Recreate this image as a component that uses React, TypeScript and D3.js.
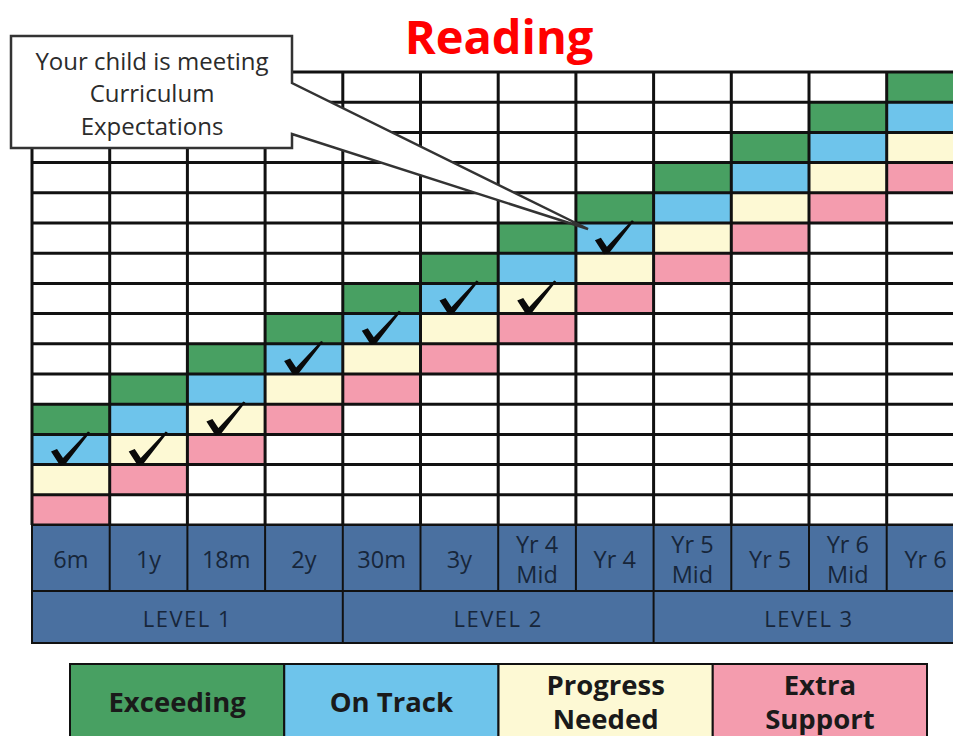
import React from "react";
import * as d3 from "d3";

// ---- data ----
const columnLabels: string[] = ["6m", "1y", "18m", "2y", "30m", "3y", "Yr 4\nMid", "Yr 4", "Yr 5\nMid", "Yr 5", "Yr 6\nMid", "Yr 6"];
// lowest grid row (from bottom) of the four-band stack in each column
const baseRow: number[] = [0, 1, 2, 3, 4, 5, 6, 7, 8, 9, 10, 11];
// band (category) holding the tick mark in each column
const checkBand: (string | null)[] = ["On Track", "Progress Needed", "Progress Needed", "On Track", "On Track", "On Track", "Progress Needed", "On Track", null, null, null, null];
// categories ordered from bottom band to top band
const bandOrder: string[] = ["Extra Support", "Progress Needed", "On Track", "Exceeding"];
const legendCategories: string[] = ["Exceeding", "On Track", "Progress Needed", "Extra Support"];
const legendLines: string[][] = [["Exceeding"], ["On Track"], ["Progress", "Needed"], ["Extra", "Support"]];
const levelLabels: string[] = ["LEVEL 1", "LEVEL 2", "LEVEL 3"];
const levelSpans: number[] = [4, 4, 4];
const rowCount = 15;
const title = "Reading";
const calloutLines: string[] = ["Your child is meeting", "Curriculum", "Expectations"];

const colors: Record<string, string> = {
  "Exceeding": "#48a062",
  "On Track": "#6ec4eb",
  "Progress Needed": "#fdf9d4",
  "Extra Support": "#f49cae",
};

const FONT = "'Open Sans', 'Noto Sans', sans-serif";

export default function App() {
  const gridLeft = 32;
  const colW = 77.7;
  const gridTop = 72;
  const gridBottom = 525;
  const headerBottom = 591;
  const levelBottom = 643;

  const x = d3.scaleBand<number>()
    .domain(d3.range(columnLabels.length))
    .range([gridLeft, gridLeft + colW * columnLabels.length])
    .padding(0);
  const y = d3.scaleLinear().domain([0, rowCount]).range([gridBottom, gridTop]);
  const rowH = y(0) - y(1);

  const legendX = d3.scaleBand<number>()
    .domain(d3.range(legendCategories.length))
    .range([70, 927]);
  const legendTop = 664;
  const legendBottom = 748;

  const gridRight = x.range()[1];

  // check mark polygon relative to (cell left, cell bottom)
  const checkPath = (cx: number, cb: number) => {
    const p = d3.path();
    p.moveTo(cx + 19, cb - 13);
    p.lineTo(cx + 25, cb - 15.5);
    p.lineTo(cx + 31, cb - 6.5);
    p.lineTo(cx + 56, cb - 33);
    p.lineTo(cx + 58, cb - 32);
    p.lineTo(cx + 33.5, cb - 0.5);
    p.lineTo(cx + 28, cb + 1);
    p.closePath();
    return p.toString();
  };

  let levelStart = 0;
  const levelCells = levelLabels.map((lab, i) => {
    const s = levelStart;
    levelStart += levelSpans[i];
    const x0 = x(s)!;
    const x1 = x(s + levelSpans[i] - 1)! + x.bandwidth();
    return { lab, x0, x1 };
  });

  return (
    <svg width={953} height={736} style={{ position: "fixed", left: 0, top: 0, background: "#fff" }}>
      {/* title */}
      <text x={499} y={54} textAnchor="middle" fontFamily={FONT} fontWeight={700} fontSize={47} fill="#ff0000">{title}</text>

      {/* coloured bands */}
      {columnLabels.map((_, ci) =>
        bandOrder.map((cat, bi) => (
          <rect key={`b${ci}-${bi}`} x={x(ci)} y={y(baseRow[ci] + bi + 1)} width={x.bandwidth()} height={rowH} fill={colors[cat]} />
        ))
      )}

      {/* grid lines */}
      {d3.range(rowCount + 1).map((r) => (
        <line key={`h${r}`} x1={gridLeft} x2={gridRight} y1={y(r)} y2={y(r)} stroke="#111" strokeWidth={3} />
      ))}
      {d3.range(columnLabels.length + 1).map((c) => {
        const xx = c < columnLabels.length ? x(c)! : gridRight;
        return <line key={`v${c}`} x1={xx} x2={xx} y1={gridTop} y2={gridBottom} stroke="#111" strokeWidth={3} />;
      })}

      {/* check marks */}
      {checkBand.map((cat, ci) => {
        if (!cat) return null;
        const bi = bandOrder.indexOf(cat);
        const cb = y(baseRow[ci] + bi);
        return <path key={`c${ci}`} d={checkPath(x(ci)!, cb)} fill="#0a0a0a" />;
      })}

      {/* header row */}
      <rect x={gridLeft} y={gridBottom} width={gridRight - gridLeft} height={levelBottom - gridBottom} fill="#4a70a0" />
      {columnLabels.map((lab, ci) => {
        const cx = x(ci)! + x.bandwidth() / 2;
        const lines = lab.split("\n");
        const mid = (gridBottom + headerBottom) / 2 + 1;
        return (
          <g key={`hl${ci}`}>
            {ci > 0 && <line x1={x(ci)} x2={x(ci)} y1={gridBottom} y2={headerBottom} stroke="#111" strokeWidth={2} />}
            {lines.map((ln, li) => (
              <text key={li} x={cx} y={mid + (li - (lines.length - 1) / 2) * 30} textAnchor="middle" dominantBaseline="central"
                fontFamily={FONT} fontSize={23.5} fill="#17263a">{ln}</text>
            ))}
          </g>
        );
      })}
      <line x1={gridLeft} x2={gridRight} y1={headerBottom} y2={headerBottom} stroke="#111" strokeWidth={2} />
      {levelCells.map((lc, i) => (
        <g key={`lv${i}`}>
          {i > 0 && <line x1={lc.x0} x2={lc.x0} y1={headerBottom} y2={levelBottom} stroke="#111" strokeWidth={2} />}
          <text x={(lc.x0 + lc.x1) / 2} y={618} textAnchor="middle" dominantBaseline="central" fontFamily={FONT} fontSize={22}
            letterSpacing={1.5} fill="#17263a">{lc.lab}</text>
        </g>
      ))}
      <rect x={gridLeft} y={gridBottom} width={gridRight - gridLeft} height={levelBottom - gridBottom} fill="none" stroke="#111" strokeWidth={2} />

      {/* callout */}
      <path d={`M11,36 L292,36 L292,83 L588,229 L292,134 L292,148 L11,148 Z`} fill="#fff" stroke="#333" strokeWidth={2.5} strokeLinejoin="miter" />
      {calloutLines.map((ln, i) => (
        <text key={`co${i}`} x={152} y={60 + i * 32.5} textAnchor="middle" dominantBaseline="central" fontFamily={FONT} fontSize={24} fill="#2b2b2b">{ln}</text>
      ))}

      {/* legend */}
      {legendCategories.map((cat, i) => {
        const lx = legendX(i)!;
        const w = legendX.bandwidth();
        const lines = legendLines[i];
        return (
          <g key={`lg${i}`}>
            <rect x={lx} y={legendTop} width={w} height={legendBottom - legendTop} fill={colors[cat]} stroke="#111" strokeWidth={2} />
            {lines.map((ln, li) => (
              <text key={li} x={lx + w / 2} y={(lines.length === 1 ? 701 : 684 + li * 34)} textAnchor="middle" dominantBaseline="central"
                fontFamily={FONT} fontWeight={700} fontSize={27.5} fill="#1a1a1a">{ln}</text>
            ))}
          </g>
        );
      })}
    </svg>
  );
}
